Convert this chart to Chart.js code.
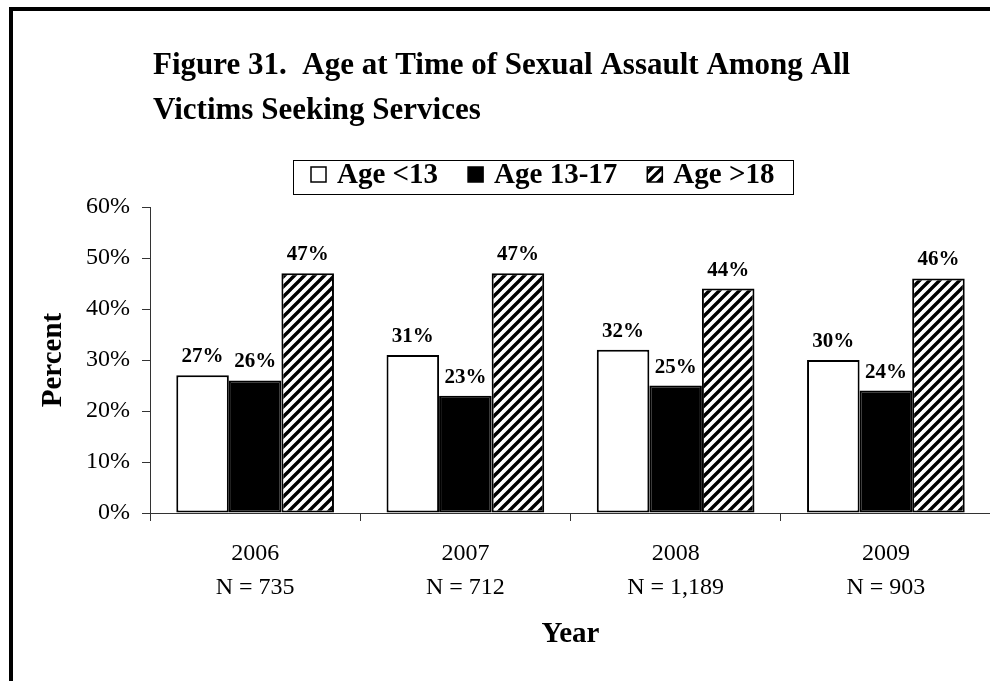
<!DOCTYPE html>
<html>
<head>
<meta charset="utf-8">
<script src="https://cdn.jsdelivr.net/npm/chart.js@4.4.1/dist/chart.umd.min.js"></script>
<style>
  html, body { margin: 0; padding: 0; background: #fff; overflow: hidden; }
  #wrap { position: absolute; left: 0; top: 0; width: 1000px; height: 681px; }
</style>
</head>
<body>
<div id="wrap"><canvas id="chart" width="1000" height="681"></canvas></div>
<script>
// chart data
const years = ['2006', '2007', '2008', '2009'];
const nCounts = ['N = 735', 'N = 712', 'N = 1,189', 'N = 903'];
const seriesNames = ['Age <13', 'Age 13-17', 'Age >18'];
const under13 = [27, 31, 32, 30];
const age13to17 = [26, 23, 25, 24];
const over18 = [47, 47, 44, 46];
const yTicks = [0, 10, 20, 30, 40, 50, 60];
const titleLines = ['Figure 31.  Age at Time of Sexual Assault Among All', 'Victims Seeking Services'];

const SERIF = '"Liberation Serif", "Times New Roman", serif';

// diagonal hatch fill for the >18 bars
function makeHatch() {
  const s = 10;
  const c = document.createElement('canvas');
  c.width = s; c.height = s;
  const g = c.getContext('2d');
  g.fillStyle = '#fff';
  g.fillRect(0, 0, s, s);
  g.strokeStyle = '#000';
  g.lineWidth = 3.4;
  g.beginPath();
  g.moveTo(-1, s + 1); g.lineTo(s + 1, -1);
  g.moveTo(-1, 1); g.lineTo(1, -1);
  g.moveTo(s - 1, s + 1); g.lineTo(s + 1, s - 1);
  g.stroke();
  return g.createPattern(c, 'repeat');
}

const ctx = document.getElementById('chart').getContext('2d');
const hatch = makeHatch();

// frame, title and legend box drawn around the chart
const decorations = {
  id: 'decorations',
  beforeDraw(chart) {
    const c = chart.ctx;
    c.save();
    c.fillStyle = '#fff';
    c.fillRect(0, 0, chart.width, chart.height);
    c.fillStyle = '#000';
    c.fillRect(9, 7, 4, chart.height);
    c.fillRect(9, 7, chart.width, 4);

    c.font = 'bold 31px ' + SERIF;
    c.textBaseline = 'alphabetic';
    c.textAlign = 'left';
    c.fillText(titleLines[0], 153, 74);
    c.fillText(titleLines[1], 153, 119);

    // legend
    c.lineWidth = 1;
    c.strokeStyle = '#000';
    c.strokeRect(293.5, 160.5, 500, 34);
    c.font = 'bold 29px ' + SERIF;
    let x = 311;
    chart.data.datasets.forEach(ds => {
      c.fillStyle = ds.backgroundColor;
      c.fillRect(x, 167, 15, 15);
      c.lineWidth = 1.5;
      c.strokeRect(x, 167, 15, 15);
      c.fillStyle = '#000';
      c.fillText(ds.label, x + 26, 183);
      x += 26 + c.measureText(ds.label).width + 30;
    });
    c.restore();
  },
  afterDatasetsDraw(chart) {
    const c = chart.ctx;
    c.save();
    c.font = 'bold 21px ' + SERIF;
    c.fillStyle = '#000';
    c.textAlign = 'center';
    c.textBaseline = 'alphabetic';
    chart.data.datasets.forEach((ds, i) => {
      chart.getDatasetMeta(i).data.forEach((bar, j) => {
        c.fillText(ds.data[j] + '%', bar.x, bar.y - 13);
      });
    });
    c.restore();
  }
};

new Chart(ctx, {
  type: 'bar',
  data: {
    labels: years.map((y, i) => [y, nCounts[i]]),
    datasets: [
      { label: seriesNames[0], data: under13, backgroundColor: '#fff' },
      { label: seriesNames[1], data: age13to17, backgroundColor: '#000' },
      { label: seriesNames[2], data: over18, backgroundColor: hatch }
    ]
  },
  options: {
    responsive: false,
    animation: false,
    layout: { padding: { top: 207, right: 9, bottom: 0, left: 0 } },
    datasets: {
      bar: {
        borderColor: '#000',
        borderWidth: 2,
        borderSkipped: false,
        categoryPercentage: 0.75,
        barPercentage: 1.0
      }
    },
    plugins: {
      legend: { display: false },
      tooltip: { enabled: false }
    },
    scales: {
      x: {
        grid: { drawOnChartArea: false, drawTicks: true, tickLength: 8, color: '#333', offset: true },
        border: { color: '#333', width: 1 },
        ticks: { color: '#000', font: { family: SERIF, size: 24, lineHeight: 1.4 }, padding: 16, maxRotation: 0 },
        title: { display: true, text: 'Year', color: '#000', font: { family: SERIF, size: 29, weight: 'bold' }, padding: { top: 0, bottom: 29 } },
        afterFit(scale) { scale.height = 168; }
      },
      y: {
        min: 0,
        max: 60,
        afterBuildTicks(scale) { scale.ticks = yTicks.map(v => ({ value: v })); },
        grid: { drawOnChartArea: false, drawTicks: true, tickLength: 8, color: '#333' },
        border: { color: '#333', width: 1 },
        ticks: { color: '#000', font: { family: SERIF, size: 24 }, padding: 12, callback: v => v + '%' },
        title: { display: true, text: 'Percent', color: '#000', font: { family: SERIF, size: 29, weight: 'bold' }, padding: { top: 36, bottom: 0 } },
        afterFit(scale) { scale.width = 150; }
      }
    }
  },
  plugins: [decorations]
});
</script>
</body>
</html>
